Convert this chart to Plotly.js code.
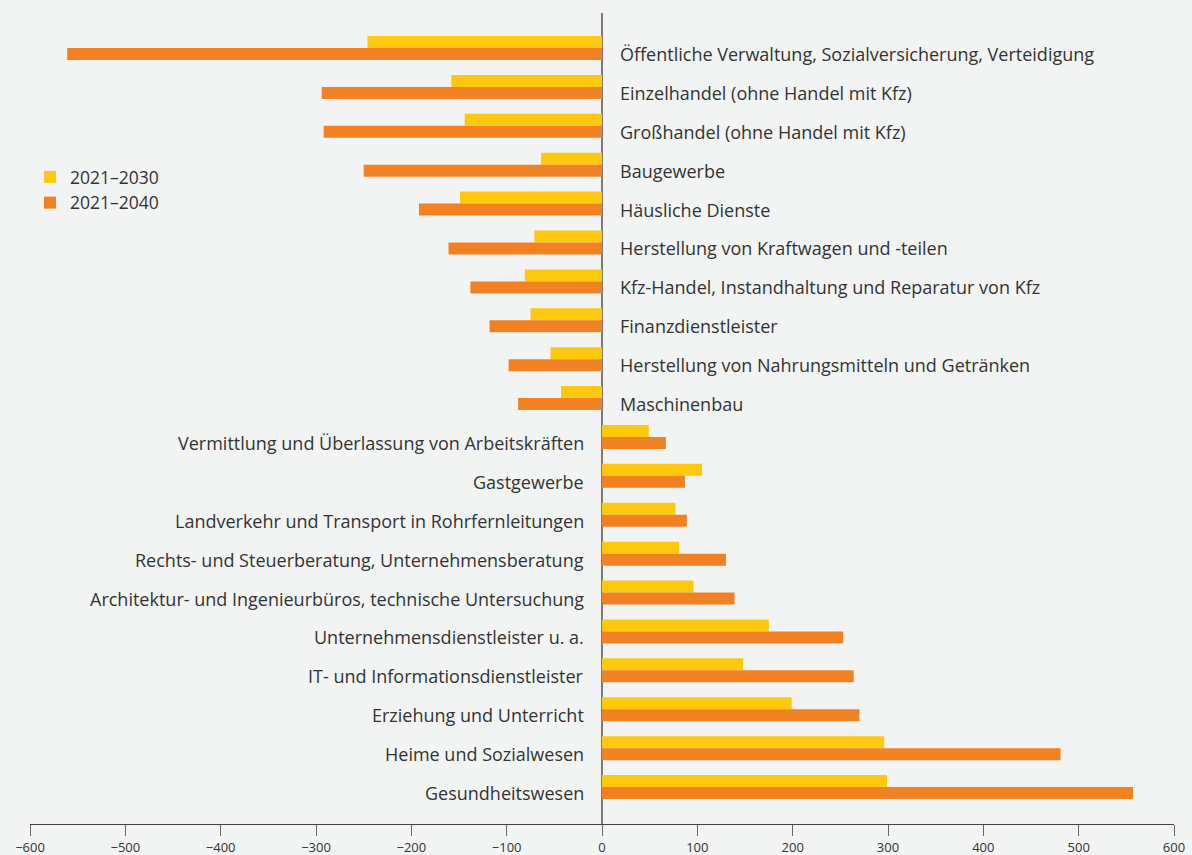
<!DOCTYPE html>
<html>
<head>
<meta charset="utf-8">
<script src="https://cdn.plot.ly/plotly-3.0.1.min.js"></script>
<style>
  html, body { margin: 0; padding: 0; background: #f2f4f3; }
  #chart { width: 1192px; height: 855px; }
</style>
</head>
<body>
<div id="chart"></div>
<script>
const branchen = [
  "Öffentliche Verwaltung, Sozialversicherung, Verteidigung",
  "Einzelhandel (ohne Handel mit Kfz)",
  "Großhandel (ohne Handel mit Kfz)",
  "Baugewerbe",
  "Häusliche Dienste",
  "Herstellung von Kraftwagen und -teilen",
  "Kfz-Handel, Instandhaltung und Reparatur von Kfz",
  "Finanzdienstleister",
  "Herstellung von Nahrungsmitteln und Getränken",
  "Maschinenbau",
  "Vermittlung und Überlassung von Arbeitskräften",
  "Gastgewerbe",
  "Landverkehr und Transport in Rohrfernleitungen",
  "Rechts- und Steuerberatung, Unternehmensberatung",
  "Architektur- und Ingenieurbüros, technische Untersuchung",
  "Unternehmensdienstleister u. a.",
  "IT- und Informationsdienstleister",
  "Erziehung und Unterricht",
  "Heime und Sozialwesen",
  "Gesundheitswesen"
];

const bis2030 = [-246, -158, -144, -64, -149, -71, -81, -75, -54, -43,
                 49, 105, 77, 81, 96, 175, 148, 199, 296, 299];
const bis2040 = [-561, -294, -292, -250, -192, -161, -138, -118, -98, -88,
                 67, 87, 89, 130, 139, 253, 264, 270, 481, 557];

const xTicks = [-600, -500, -400, -300, -200, -100, 0, 100, 200, 300, 400, 500, 600];

const textColor = "#333333";
const fontFamily = "Open Sans, sans-serif";

const traces = [
  {
    type: "bar",
    orientation: "h",
    name: "2021–2030",
    y: branchen,
    x: bis2030,
    marker: { color: "#fdc80e" },
    hoverinfo: "x+y",
  },
  {
    type: "bar",
    orientation: "h",
    name: "2021–2040",
    y: branchen,
    x: bis2040,
    marker: { color: "#f08223" },
    hoverinfo: "x+y",
  },
];

// labels sit beside the zero line, on the side away from the bars
const labels = branchen.map((name, i) => {
  const neg = bis2040[i] < 0;
  return {
    x: 0,
    y: name,
    xref: "x",
    yref: "y",
    text: name,
    showarrow: false,
    xanchor: neg ? "left" : "right",
    xshift: neg ? 16 : -16,
    yshift: -6,
    font: { size: 18, color: textColor, family: fontFamily },
  };
});

const layout = {
  width: 1192,
  height: 855,
  margin: { l: 30, r: 18, t: 13, b: 31 },
  paper_bgcolor: "#f2f4f3",
  plot_bgcolor: "#f2f4f3",
  font: { family: fontFamily, color: textColor },
  barmode: "group",
  bargap: 0.383,
  bargroupgap: 0,
  showlegend: true,
  legend: {
    x: 0.0,
    y: 0.82,
    xanchor: "left",
    yanchor: "top",
    bgcolor: "rgba(0,0,0,0)",
    font: { size: 17.5, color: textColor, family: fontFamily },
    tracegroupgap: 0,
  },
  xaxis: {
    range: [-600, 600],
    tickvals: xTicks,
    showgrid: false,
    zeroline: true,
    zerolinecolor: "#7a7a7a",
    zerolinewidth: 2,
    showline: true,
    linecolor: "#444444",
    linewidth: 1,
    ticks: "outside",
    ticklen: 11,
    tickcolor: "#666666",
    tickfont: { size: 13, color: textColor, family: fontFamily },
    fixedrange: true,
  },
  yaxis: {
    type: "category",
    categoryorder: "array",
    categoryarray: branchen,
    range: [19.95, -0.9],
    showticklabels: false,
    showgrid: false,
    zeroline: false,
    showline: false,
    ticks: "",
    fixedrange: true,
  },
  annotations: labels,
};

Plotly.newPlot("chart", traces, layout, { displayModeBar: false, staticPlot: true });
</script>
</body>
</html>
